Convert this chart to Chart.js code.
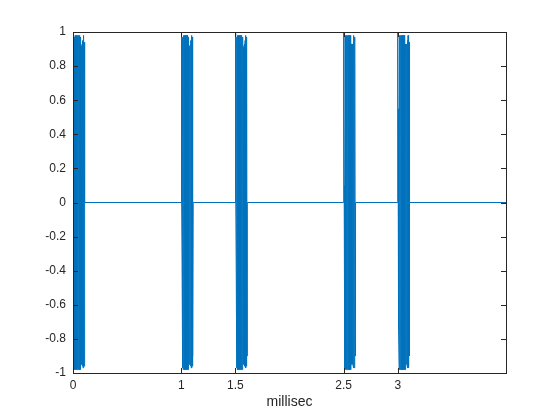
<!DOCTYPE html>
<html>
<head>
<meta charset="utf-8">
<script src="https://cdn.jsdelivr.net/npm/chart.js@4.4.1/dist/chart.umd.min.js"></script>
<style>
  body { margin: 0; background: #fff; }
  #wrap { width: 560px; height: 420px; }
</style>
</head>
<body>
<div id="wrap"><canvas id="pulseChart" width="560" height="420"></canvas></div>
<script>
// pulse start times (ms)
var pulseTimes = [0, 1, 1.5, 2.5, 3];
// one burst, sampled every burstStep ms
var burstStep = 0.0025;
var burstValues = [
    1, 0.55, 0.1, -0.35, -0.75, -0.97,
    0.97, -0.98, 0.98, -0.98, 0.98, -0.98, 0.98, -0.98, 0.98, -0.98,
    0.98, -0.98, 0.98, -0.98, 0.98, -0.98, 0.98, -0.98, 0.98, -0.98,
    0.97, -0.98,
    0.93, -0.95, 0.91, -0.94, 0.92, -0.95, 0.93, -0.96, 0.95,
    -0.97, 0.98, -0.97, 0.97, -0.96, 0.94, -0.9, 0
];
var xMax = 4;
var xTicks = [0, 1, 1.5, 2.5, 3];
var yTicks = [-1, -0.8, -0.6, -0.4, -0.2, 0, 0.2, 0.4, 0.6, 0.8, 1];

var axisColor = '#262626';
var lineColor = '#0072BD';

// build the signal from the bursts
var points = [];
pulseTimes.forEach(function (t0) {
    points.push({ x: t0, y: 0 });
    burstValues.forEach(function (v, i) {
        points.push({ x: t0 + i * burstStep, y: v });
    });
});
points.push({ x: xMax, y: 0 });

// box + inward ticks on all four sides, like matlab
var boxPlugin = {
    id: 'box',
    afterDatasetsDraw: function (chart) {
        var ctx = chart.ctx;
        var a = chart.chartArea;
        var xs = chart.scales.x, ys = chart.scales.y;
        var tl = 5;
        ctx.save();
        ctx.strokeStyle = axisColor;
        ctx.lineWidth = 1;
        ctx.beginPath();
        xTicks.forEach(function (v) {
            var px = Math.round(xs.getPixelForValue(v)) + 0.5;
            ctx.moveTo(px, a.bottom); ctx.lineTo(px, a.bottom - tl);
            ctx.moveTo(px, a.top); ctx.lineTo(px, a.top + tl);
        });
        yTicks.forEach(function (v) {
            var py = Math.round(ys.getPixelForValue(v)) + 0.5;
            ctx.moveTo(a.left, py); ctx.lineTo(a.left + tl, py);
            ctx.moveTo(a.right, py); ctx.lineTo(a.right - tl, py);
        });
        ctx.stroke();
        ctx.strokeRect(Math.round(a.left) + 0.5, Math.round(a.top) + 0.5,
            Math.round(a.right - a.left), Math.round(a.bottom - a.top));
        ctx.restore();
    }
};

var chart = new Chart(document.getElementById('pulseChart'), {
    type: 'scatter',
    data: {
        datasets: [{
            data: points,
            showLine: true,
            borderColor: lineColor,
            borderWidth: 1,
            pointRadius: 0,
            fill: false
        }]
    },
    options: {
        responsive: false,
        animation: false,
        devicePixelRatio: 1,
        layout: { padding: { left: 0, top: 32, right: 54, bottom: 0 } },
        plugins: { legend: { display: false }, tooltip: { enabled: false } },
        scales: {
            x: {
                type: 'linear',
                min: 0,
                max: xMax,
                grid: { display: false, drawTicks: false },
                border: { display: false },
                afterBuildTicks: function (scale) {
                    scale.ticks = xTicks.map(function (v) { return { value: v }; });
                },
                afterFit: function (scale) { scale.height = 47; },
                ticks: {
                    padding: 5,
                    color: axisColor,
                    font: { family: 'Liberation Sans, Arial, sans-serif', size: 12 },
                    maxRotation: 0,
                    callback: function (v) { return String(v); }
                },
                title: {
                    display: true,
                    text: 'millisec',
                    color: axisColor,
                    font: { family: 'Liberation Sans, Arial, sans-serif', size: 14 },
                    padding: { top: 0, bottom: 9 }
                }
            },
            y: {
                min: -1,
                max: 1,
                grid: { display: false, drawTicks: false },
                border: { display: false },
                afterBuildTicks: function (scale) {
                    scale.ticks = yTicks.map(function (v) { return { value: v }; });
                },
                afterFit: function (scale) { scale.width = 73; },
                ticks: {
                    padding: 7,
                    color: axisColor,
                    font: { family: 'Liberation Sans, Arial, sans-serif', size: 12 },
                    callback: function (v) { return String(Math.round(v * 10) / 10); }
                }
            }
        }
    },
    plugins: [boxPlugin]
});
</script>
</body>
</html>
